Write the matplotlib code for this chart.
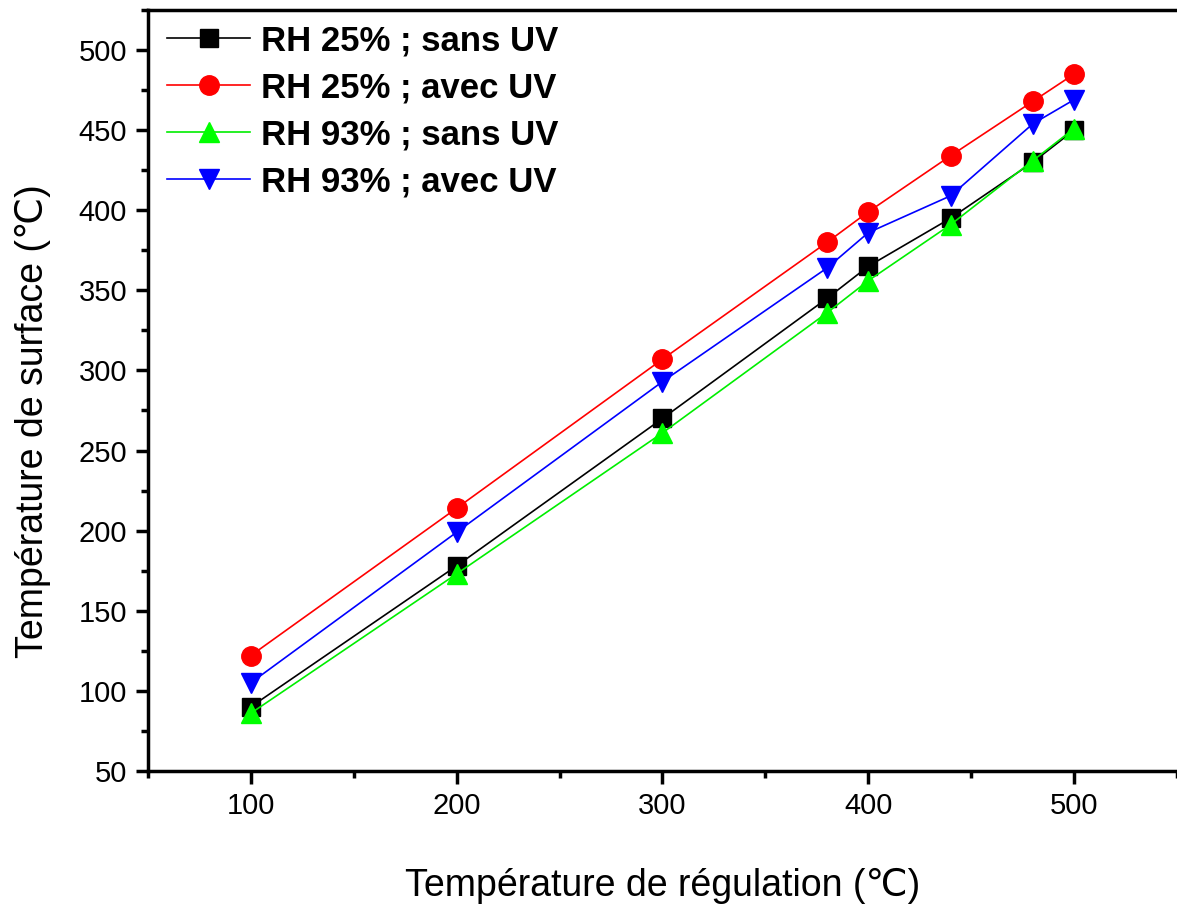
import matplotlib
matplotlib.use("Agg")
import matplotlib.pyplot as plt
from matplotlib.ticker import MultipleLocator

plt.rcParams['font.family'] = ['Liberation Sans', 'DejaVu Sans']

x = [100, 200, 300, 380, 400, 440, 480, 500]
rh25_sans = [90, 178, 270, 345, 365, 395, 430, 450]
rh25_avec = [122, 214, 307, 380, 399, 434, 468, 485]
rh93_sans = [86, 173, 261, 336, 356, 391, 431, 451]
rh93_avec = [105, 199, 293, 364, 386, 409, 454, 469]
labels = ["RH 25% ; sans UV", "RH 25% ; avec UV", "RH 93% ; sans UV", "RH 93% ; avec UV"]

fig = plt.figure(figsize=(11.77, 9.08), dpi=100)
ax = fig.add_axes([0.1257, 0.151, 0.8743, 0.838])

ax.plot(x, rh25_sans, color='black', lw=1.2, marker='s', ms=13, mfc='black', mec='black', label=labels[0])
ax.plot(x, rh25_avec, color='red', lw=1.2, marker='o', ms=14, mfc='red', mec='red', label=labels[1])
ax.plot(x, rh93_sans, color='#00ee00', lw=1.2, marker='^', ms=15, mfc='#00ff00', mec='#00ff00', label=labels[2])
ax.plot(x, rh93_avec, color='blue', lw=1.2, marker='v', ms=15, mfc='blue', mec='blue', label=labels[3])

ax.set_xlim(50, 550)
ax.set_ylim(50, 525)
ax.xaxis.set_major_locator(MultipleLocator(100))
ax.xaxis.set_minor_locator(MultipleLocator(50))
ax.yaxis.set_major_locator(MultipleLocator(50))
ax.yaxis.set_minor_locator(MultipleLocator(25))
ax.set_yticks(range(50, 501, 50))
ax.tick_params(axis='both', which='major', direction='out', length=9, width=2.5, labelsize=21, pad=6)
ax.tick_params(axis='both', which='minor', direction='out', length=5, width=2.5)
ax.spines['right'].set_visible(False)
for s in ['left', 'bottom', 'top']:
    ax.spines[s].set_linewidth(2.5)

ax.set_xlabel("Température de régulation (℃)", fontsize=27, labelpad=35)
ax.set_ylabel("Température de surface (℃)", fontsize=27)
ax.yaxis.set_label_coords(-0.094, 0.46)

leg = ax.legend(loc='upper left', frameon=False, prop={'weight': 'bold', 'size': 25},
                handlelength=2.4, handletextpad=0.3, labelspacing=0.4,
                borderaxespad=0.0, bbox_to_anchor=(0.005, 0.999))

fig.savefig("out.png", dpi=100)
